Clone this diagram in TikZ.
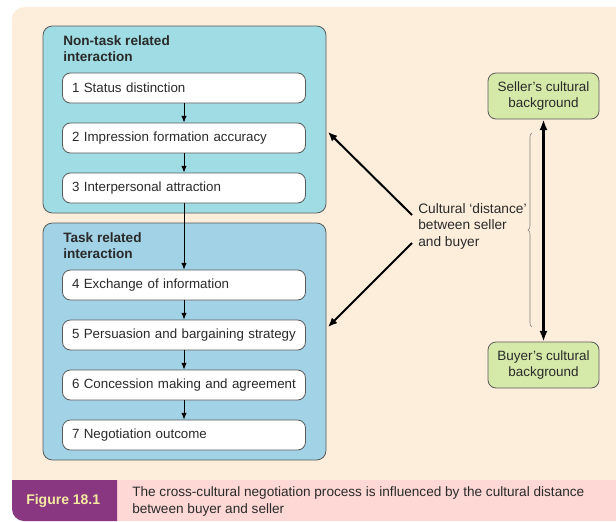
\documentclass[tikz,border=0pt]{standalone}
\usepackage{fontspec}
\setmainfont{Liberation Sans}
\usetikzlibrary{arrows.meta,decorations.pathreplacing}
\definecolor{peach}{HTML}{FDEEDC}
\definecolor{tealbox}{HTML}{A0DCE4}
\definecolor{bluebox}{HTML}{A2D2E6}
\definecolor{greenbox}{HTML}{D5E9A9}
\definecolor{purplebar}{HTML}{893780}
\definecolor{pinkbar}{HTML}{FDD8D5}
\definecolor{figyellow}{HTML}{F6EAA2}
\definecolor{edgegray}{HTML}{5A5A5A}
\definecolor{txt}{HTML}{2A2A2A}
\tikzset{
  outerbox/.style={draw=edgegray, line width=0.6pt, rounded corners=7pt, minimum width=212.25pt, minimum height=140.25pt},
  innerbox/.style={draw=edgegray, fill=white, line width=0.6pt, rounded corners=6pt, minimum width=182.25pt, minimum height=22.5pt, inner xsep=7pt, text width=168pt, align=left, font=\fontsize{10}{12}\selectfont, text=txt},
  greenb/.style={draw=edgegray, fill=greenbox, line width=0.6pt, rounded corners=6pt, minimum width=83.25pt, minimum height=34.5pt, align=center, font=\fontsize{10.1}{12.6}\selectfont, text=txt},
  titletxt/.style={font=\bfseries\fontsize{10.2}{12}\selectfont, align=left, text=txt, inner sep=0pt},
  flowarr/.style={-{Latex[length=5pt,width=4pt]}, line width=0.7pt, black},
  bigarr/.style={-{Latex[length=7pt,width=6pt]}, line width=1.5pt, black},
}
\begin{document}
\begin{tikzpicture}[x=0.75pt,y=-0.75pt]
\useasboundingbox (0,0) rectangle (616,521);
\fill[white] (0,0) rectangle (616,521);
\fill[peach] (12,481) [rounded corners=9pt]-- (12,7) [sharp corners]-- (616,7) -- (616,481) -- cycle;
% caption band
\fill[pinkbar] (116,480) rectangle (616,521);
\fill[purplebar] (117,480) -- (12,480) [rounded corners=9pt]-- (12,521) [sharp corners]-- (117,521) -- cycle;
\node[anchor=west, text=figyellow, font=\bfseries\fontsize{10.5}{12}\selectfont, inner sep=0pt] (fig) at (26,501) {Figure 18.1};
\node[anchor=north west, align=left, text=txt, font=\fontsize{10.2}{12.75}\selectfont, inner sep=0pt] (cap) at (132,486.5) {The cross-cultural negotiation process is influenced by the cultural distance\\between buyer and seller};

% outer boxes
\node[outerbox, fill=tealbox] (g1) at (184.5,119.5) {};
\node[outerbox, fill=bluebox, minimum height=177.75pt] (g2) at (184.5,341.5) {};
\node[titletxt, anchor=north west] (t1) at (63,35) {Non-task related\\interaction};
\node[titletxt, anchor=north west] (t2) at (63,232) {Task related\\interaction};

% inner boxes
\node[innerbox] (b1) at (184,88) {1 Status distinction};
\node[innerbox] (b2) at (184,138) {2 Impression formation accuracy};
\node[innerbox] (b3) at (184,188) {3 Interpersonal attraction};
\node[innerbox] (b4) at (184,285) {4 Exchange of information};
\node[innerbox] (b5) at (184,335) {5 Persuasion and bargaining strategy};
\node[innerbox] (b6) at (184,385) {6 Concession making and agreement};
\node[innerbox] (b7) at (184,435) {7 Negotiation outcome};
\draw[flowarr] (b1) -- (b2);
\draw[flowarr] (b2) -- (b3);
\draw[flowarr] (b3) -- (b4);
\draw[flowarr] (b4) -- (b5);
\draw[flowarr] (b5) -- (b6);
\draw[flowarr] (b6) -- (b7);

% right side
\node[greenb] (seller) at (543.5,96) {Seller's cultural\\background};
\node[greenb] (buyer) at (543.5,365) {Buyer's cultural\\background};
\draw[{Latex[length=8pt,width=6pt]}-{Latex[length=8pt,width=6pt]}, line width=1.6pt] (seller) -- (buyer);
\coordinate (brb) at (532,327);
\coordinate (brt) at (532,133);
\draw[gray, line width=0.4pt, decorate, decoration={brace, amplitude=3pt}] (brb) -- (brt);

\node[anchor=north west, align=left, text=txt, font=\fontsize{10.3}{12.4}\selectfont, inner sep=0pt] (cd) at (418,203) {Cultural `distance'\\between seller\\and buyer};
\coordinate (a1s) at (412,215);
\coordinate (a1e) at (328,132);
\coordinate (a2s) at (412,243);
\coordinate (a2e) at (328,327);
\draw[bigarr] (a1s) -- (a1e);
\draw[bigarr] (a2s) -- (a2e);
\end{tikzpicture}
\end{document}
